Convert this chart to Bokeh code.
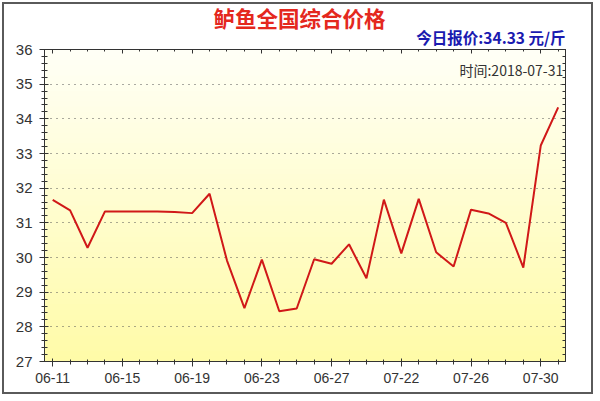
from bokeh.plotting import figure
from bokeh.models import (LinearAxis, FixedTicker, SingleIntervalTicker, Range1d,
                          Label, BoxAnnotation, ColumnDataSource, Grid, Title,
                          CustomJSTickFormatter)
from bokeh.embed import file_html
from bokeh.resources import INLINE

# ---- data ----
dates = ["06-11", "06-12", "06-13", "06-14", "06-15", "06-16", "06-17", "06-18",
         "06-19", "06-20", "06-21", "06-22", "06-23", "06-24", "06-25", "06-26",
         "06-27", "06-28", "06-29", "06-30", "07-22", "07-23", "07-24", "07-25",
         "07-26", "07-27", "07-28", "07-29", "07-30", "07-31"]
prices = [31.66, 31.36, 30.28, 31.33, 31.33, 31.33, 31.33, 31.31, 31.28, 31.84,
          29.91, 28.54, 29.94, 28.45, 28.53, 29.95, 29.82, 30.38, 29.40, 31.67,
          30.12, 31.69, 30.15, 29.74, 31.38, 31.27, 31.00, 29.71, 33.23, 34.33]
y_ticks = [27, 28, 29, 30, 31, 32, 33, 34, 35, 36]
label_every = 4

title_text = "鲈鱼全国综合价格"
quote_text = "今日报价:34.33 元/斤"
time_text = "时间:2018-07-31"

idx = list(range(len(dates)))
x_major = idx[::label_every]
src = ColumnDataSource(dict(x=idx, y=prices, date=dates))

y0, y1 = y_ticks[0], y_ticks[-1]
p = figure(width=591, height=392,
           x_range=Range1d(-0.47, 29.42), y_range=Range1d(y0, y1),
           output_backend="svg", toolbar_location=None,
           x_axis_type=None, y_axis_type=None,
           min_border_left=40, min_border_right=30,
           min_border_top=45, min_border_bottom=35)
p.styles = {"border": "2px solid #5a5a5a", "margin": "2px"}
p.background_fill_color = "#FFFFFF"
p.border_fill_color = "#FFFFFF"
p.outline_line_color = "#333333"

yticker = SingleIntervalTicker(interval=1, num_minor_ticks=5)
xticker = FixedTicker(ticks=x_major, minor_ticks=idx)
blank = CustomJSTickFormatter(code="return ''")

tick_font = "Liberation Sans"
common = dict(axis_line_color="#333333", major_tick_line_color="#333333",
              minor_tick_line_color="#333333")

# above panel: first added = closest to the plot frame
top = LinearAxis(ticker=xticker, major_tick_in=4, major_tick_out=0,
                 minor_tick_in=2, minor_tick_out=0, formatter=blank,
                 major_label_standoff=0, major_label_text_font_size="1px", **common)
p.add_layout(top, "above")
p.add_layout(Title(text=quote_text, align="right", offset=0,
                   text_color="#1A1AB0", text_font="Noto Sans CJK SC",
                   text_font_size="15.5px", text_font_style="bold",
                   standoff=2.5), "above")
p.add_layout(Title(text=title_text, align="left", offset=169,
                   text_color="#E4281E", text_font="Noto Sans CJK SC",
                   text_font_size="21.5px", text_font_style="bold",
                   standoff=-21.5), "above")

# gradient background (white top -> pale yellow bottom)
top_rgb = (255, 255, 246)
bot_rgb = (255, 251, 168)
n_bands = 60
for i in range(n_bands):
    t = i / (n_bands - 1)
    c = tuple(int(round(bot_rgb[k] + (top_rgb[k] - bot_rgb[k]) * t)) for k in range(3))
    b = y0 + (y1 - y0) * i / n_bands
    tp = y0 + (y1 - y0) * (i + 1) / n_bands + 0.02
    p.add_layout(BoxAnnotation(bottom=b, top=tp, fill_color="#%02x%02x%02x" % c,
                               fill_alpha=1.0, line_alpha=0, level="image"))

p.add_layout(Grid(dimension=1, ticker=yticker, grid_line_color="#555555",
                  grid_line_dash="1 5", grid_line_width=1))

left = LinearAxis(ticker=yticker, major_tick_in=4, major_tick_out=5,
                  minor_tick_in=3, minor_tick_out=3, major_label_standoff=7,
                  major_label_text_font=tick_font, major_label_text_font_size="15px",
                  major_label_text_color="#333333", **common)
p.add_layout(left, "left")

right = LinearAxis(ticker=yticker, major_tick_in=4, major_tick_out=0,
                   minor_tick_in=3, minor_tick_out=0, formatter=blank,
                   major_label_standoff=0, major_label_text_font_size="1px", **common)
p.add_layout(right, "right")

bottom = LinearAxis(ticker=xticker, major_tick_in=3, major_tick_out=5,
                    minor_tick_in=2, minor_tick_out=3, major_label_standoff=6,
                    major_label_overrides={i: dates[i] for i in x_major},
                    major_label_text_font=tick_font, major_label_text_font_size="14px",
                    major_label_text_color="#333333", **common)
p.add_layout(bottom, "below")

p.line("x", "y", source=src, line_color="#D01818", line_width=2)

p.add_layout(Label(x=29.29, y=35.40, text=time_text, text_align="right",
                   text_baseline="middle", text_color="#333333",
                   text_font="Noto Sans CJK SC", text_font_size="14px"))

open("out.html", "w").write(file_html(p, INLINE))
